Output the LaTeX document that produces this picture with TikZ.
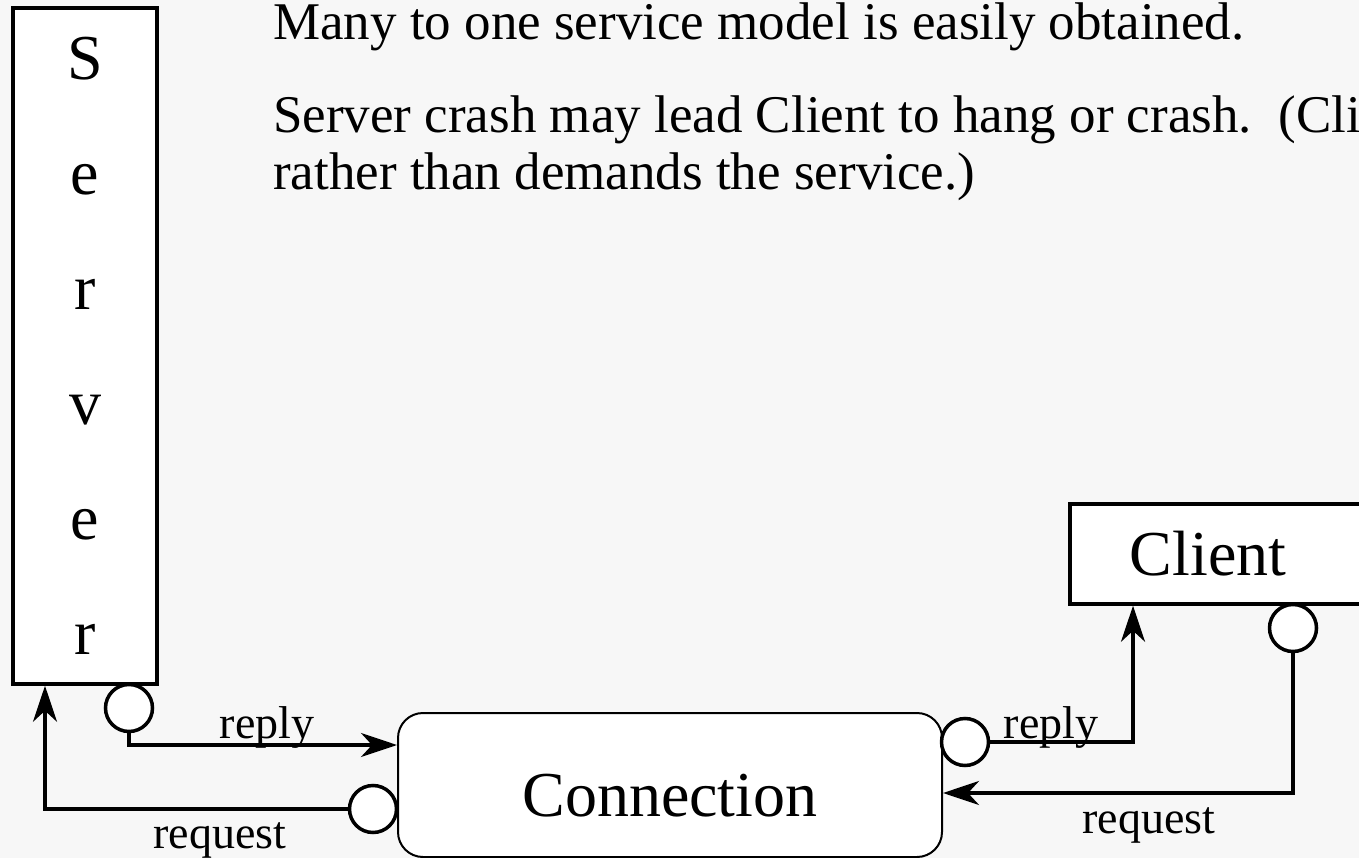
\documentclass[tikz,border=0pt]{standalone}
\usepackage{fontspec}
\setmainfont{Liberation Serif}
\usetikzlibrary{arrows.meta}
\definecolor{bggray}{RGB}{247,247,247}

\begin{document}
\begin{tikzpicture}[x=1pt,y=-1pt,
	box/.style={draw, line width=3.5pt, fill=white, inner sep=0pt},
	port/.style={circle, draw, line width=3.5pt, fill=white, minimum size=47pt, inner sep=0pt},
	link/.style={line width=3.5pt, -{Stealth[length=36pt,width=24pt,inset=11pt]}},
	note/.style={anchor=base west, inner sep=0pt, font=\fontsize{53}{57}\selectfont},
	tag/.style={anchor=base, inner sep=0pt, font=\fontsize{46}{50}\selectfont}]
		\useasboundingbox (0,0) rectangle (1359,858);
		\clip (0,0) rectangle (1359,858);
		\fill[bggray] (0,0) rectangle (1359,858);
		% text at the top
		\node[note] (many) at (273, 40) {Many to one service model is easily obtained.};
		\node[note] (crash) at (273, 133) {Server crash may lead Client to hang or crash.\ \ (Client};
		\node[note] (rather) at (273, 190) {rather than demands the service.)};
		% boxes
		\node[box, minimum width=144pt, minimum height=676pt, align=center, font=\fontsize{64}{115}\selectfont] (server) at (85, 346) {S\\e\\r\\v\\e\\r};
		\node[box, anchor=west, minimum height=100pt, text width=250pt, align=left, inner xsep=60pt, font=\fontsize{64}{70}\selectfont] (client) at (1068, 554) {Client};
		\node[draw, line width=2pt, fill=white, rounded corners=25pt, minimum width=544pt, minimum height=144pt, text height=62pt, text depth=0pt, font=\fontsize{64}{70}\selectfont] (conn) at (670, 785) {Connection};
		% ports
		\node[port] (sport) at (129, 708) {};
		\node[port] (lport) at (373, 809) {};
		\node[port] (rport) at (965, 742) {};
		\node[port] (cport) at (1293, 628) {};
		% connectors
		\draw[link] (sport.south) |- ([yshift=40pt]conn.west);
		\draw[link] (lport.west) -| ([xshift=-40pt]server.south);
		\draw[link] (rport.east) -| ([xshift=65pt]client.south west);
		\draw[link] (cport.south) |- ([yshift=-8pt]conn.east);
		% labels
		\node[tag] (sreply) at (267, 738) {reply};
		\node[tag] (srequest) at (220, 848) {request};
		\node[tag] (creply) at (1051, 738) {reply};
		\node[tag] (crequest) at (1149, 833) {request};
	\end{tikzpicture}
\end{document}
